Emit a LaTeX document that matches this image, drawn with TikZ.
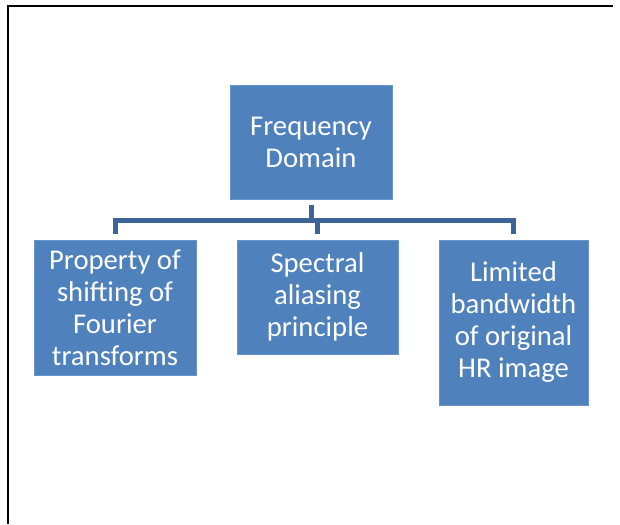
\documentclass[tikz,border=0pt]{standalone}
\usepackage{fontspec}
\setmainfont{Carlito}
\definecolor{boxblue}{HTML}{4F81BD}
\definecolor{linkblue}{HTML}{3C6496}
\begin{document}
\begin{tikzpicture}[x=0.75pt,y=-0.75pt,
	box/.style={draw=boxblue!85!white,fill=boxblue,text=white,align=center,
		inner sep=0pt,font=\fontsize{21.5}{24}\selectfont},
	link/.style={draw=linkblue,line width=3.75pt}]
\useasboundingbox (0,0) rectangle (620,524);
	%frame
	\draw[line width=1.5pt] (8,524) -- (8,6) -- (613,6);
	%boxes
	\node[box,minimum width=162*0.75pt,minimum height=114*0.75pt] (freq) at (311,142) {Frequency\\Domain};
	\node[box,minimum width=162*0.75pt,minimum height=135*0.75pt] (shift) at (115,307.5) {Property of\\shifting of\\Fourier\\transforms};
	\node[box,minimum width=161*0.75pt,minimum height=114*0.75pt] (alias) at (317.5,297) {Spectral\\aliasing\\principle};
	\node[box,minimum width=149*0.75pt,minimum height=165*0.75pt] (band) at (513.5,322.5) {Limited\\bandwidth\\of original\\HR image};
	%connectors
	\coordinate (bar) at (0,220);
	\draw[link,shorten <=6*0.75pt] (freq.south) -- (freq.south |- bar);
	\draw[link,shorten <=6*0.75pt,shorten >=6*0.75pt] (shift.north) -- (shift.north |- bar) -- (band.north |- bar) -- (band.north);
	\draw[link,shorten <=6*0.75pt] (alias.north) -- (alias.north |- bar);
\end{tikzpicture}
\end{document}
